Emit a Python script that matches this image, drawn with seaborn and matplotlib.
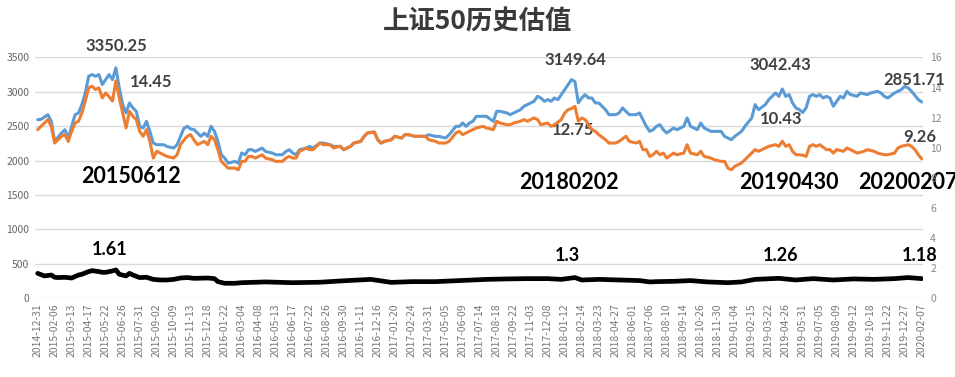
import seaborn as sns
import matplotlib.pyplot as plt

# x axis: weekly points, every 5th week labelled
tick_labels = [
    "2014-12-31", "2015-02-06", "2015-03-13", "2015-04-17", "2015-05-22", "2015-06-26",
    "2015-07-31", "2015-09-02", "2015-10-09", "2015-11-13", "2015-12-18", "2016-01-22",
    "2016-03-04", "2016-04-08", "2016-05-13", "2016-06-17", "2016-07-22", "2016-08-26",
    "2016-09-30", "2016-11-11", "2016-12-16", "2017-01-20", "2017-02-24", "2017-03-31",
    "2017-05-05", "2017-06-09", "2017-07-14", "2017-08-18", "2017-09-22", "2017-11-03",
    "2017-12-08", "2018-01-12", "2018-02-14", "2018-03-23", "2018-04-27", "2018-06-01",
    "2018-07-06", "2018-08-10", "2018-09-14", "2018-10-26", "2018-11-30", "2019-01-04",
    "2019-02-15", "2019-03-22", "2019-04-26", "2019-05-31", "2019-07-05", "2019-08-09",
    "2019-09-12", "2019-10-18", "2019-11-22", "2019-12-27", "2020-02-07",
]

# index level (left axis)
index_wk = [0, 1, 3, 4, 5, 7, 8, 9, 10, 11, 12, 13, 14, 15, 16, 17, 18, 19, 20, 21, 22, 23,
            24, 25, 26, 27, 28, 29, 30, 31, 32, 33, 34, 35, 37, 38, 40, 41, 42, 43, 44, 45,
            46, 48, 49, 50, 51, 52, 53, 54, 55, 56, 57, 58, 59, 60, 61, 62, 63, 64, 66, 67,
            69, 70, 72, 73, 74, 75, 76, 77, 79, 80, 81, 83, 84, 86, 87, 89, 90, 92, 93, 95,
            96, 97, 99, 100, 101, 102, 104, 105, 107, 108, 109, 111, 112, 114, 115, 117, 118,
            120, 121, 123, 124, 125, 126, 127, 128, 129, 131, 132, 134, 135, 136, 138, 139,
            140, 142, 143, 144, 146, 147, 148, 149, 150, 151, 152, 153, 154, 155, 156, 157,
            158, 159, 160, 161, 162, 163, 164, 165, 166, 167, 168, 170, 171, 172, 173, 174,
            176, 177, 178, 179, 180, 181, 182, 183, 184, 185, 187, 188, 190, 191, 192, 194,
            195, 196, 198, 199, 201, 202, 204, 205, 207, 208, 210, 211, 212, 214, 215, 217,
            218, 219, 220, 221, 222, 223, 224, 225, 226, 227, 228, 229, 230, 231, 232, 233,
            234, 235, 236, 237, 238, 239, 241, 242, 244, 245, 247, 248, 249, 250, 252, 253,
            254, 255, 256, 257, 259, 260]
index_val = [2595, 2600, 2668, 2570, 2279, 2401, 2449, 2328, 2498, 2668, 2693, 2814, 2984,
             3227, 3251, 3227, 3251, 3106, 3178, 3251, 3178, 3350.25,
             3057, 2814, 2693, 2839, 2766, 2717, 2498, 2474, 2571, 2425, 2255, 2231, 2231,
             2206, 2182, 2231, 2352, 2470, 2498, 2460,
             2450, 2352, 2401, 2352, 2498, 2425, 2279, 2085, 2037, 1964, 1975, 1988, 1964,
             2110, 2085, 2158, 2158, 2133, 2182, 2133,
             2110, 2085, 2085, 2133, 2158, 2110, 2085, 2158, 2182, 2206, 2182, 2255, 2255,
             2231, 2206, 2206, 2158, 2206, 2255, 2279,
             2352, 2401, 2416, 2304, 2255, 2279, 2304, 2352, 2328, 2376, 2376, 2352, 2352,
             2352, 2376, 2352, 2352,
             2328, 2376, 2498, 2498, 2547, 2498, 2547, 2571, 2644, 2644, 2644, 2571, 2717,
             2717, 2693, 2668,
             2693, 2741, 2790, 2814, 2863, 2935, 2911, 2863, 2887, 2863, 2911, 2887, 2960,
             3033, 3106, 3178,
             3149.64, 2839, 2911, 2960, 2911, 2911, 2839, 2839, 2790, 2741, 2668, 2668, 2693,
             2766, 2717, 2668,
             2668, 2693, 2595, 2498, 2425, 2449, 2498, 2522, 2449, 2401, 2474, 2449, 2498,
             2620, 2498, 2449,
             2547, 2474, 2425, 2425, 2425, 2352, 2304, 2352, 2425, 2498, 2620, 2814, 2741,
             2814, 2887, 2984,
             2935, 3042.43, 2935, 2960, 2839, 2766, 2741, 2700, 2766, 2935, 2960, 2935, 2960,
             2911, 2935, 2911,
             2790, 2863, 2935, 2911, 3008, 2960, 2935, 2984, 2960, 2984, 3008, 2984, 2935,
             2911, 2984, 3008,
             3033, 3081, 3057, 3008, 2887, 2851.71]

# PE (right axis)
pe_wk = [0, 1, 3, 4, 5, 7, 8, 9, 10, 11, 12, 13, 14, 15, 16, 17, 18, 19, 20, 21, 22, 23,
         24, 25, 26, 27, 28, 29, 30, 31, 32, 33, 34, 35, 37, 38, 40, 41, 42, 43, 44, 45,
         46, 47, 49, 50, 51, 52, 53, 54, 55, 56, 58, 59, 60, 61, 62, 63, 64, 66, 67, 69,
         70, 72, 73, 74, 75, 76, 77, 79, 80, 81, 83, 84, 86, 87, 89, 90, 92, 93, 95, 96,
         97, 99, 100, 101, 102, 104, 105, 107, 108, 109, 111, 112, 114, 115, 117, 118, 120,
         121, 123, 124, 125, 126, 128, 129, 131, 132, 134, 135, 136, 138, 139, 140, 142,
         143, 144, 146, 147, 148, 150, 151, 152, 154, 155, 156, 157, 158, 159, 160, 161,
         163, 164, 165, 167, 168, 170, 171, 173, 174, 176, 177, 178, 179, 180, 181, 182,
         183, 184, 185, 187, 188, 190, 191, 192, 194, 195, 196, 198, 199, 201, 202, 203,
         204, 205, 207, 208, 210, 211, 212, 214, 215, 217, 218, 219, 220, 221, 222, 223,
         224, 225, 226, 227, 228, 229, 230, 232, 233, 234, 235, 237, 238, 240, 241, 243,
         244, 246, 247, 249, 250, 252, 253, 254, 256, 257, 258, 259, 260]
pe_val = [11.2, 11.42, 11.87, 11.42, 10.31, 10.76, 10.87, 10.42, 11.09, 11.64, 11.76, 12.31,
          13.09, 13.98, 14.09, 13.87, 13.98, 13.31, 13.64, 13.4, 13.1, 14.45,
          13.31, 12.31, 11.31, 12.42, 12.09, 11.87, 11.09, 10.76, 11.2, 10.42, 9.31, 9.76,
          9.53, 9.42, 9.31, 9.53, 10.2, 10.5, 10.76, 10.87,
          10.5, 10.2, 10.42, 10.2, 10.76, 10.53, 9.87, 9.09, 8.87, 8.64, 8.64, 8.53, 9.09,
          9.09, 9.42, 9.42, 9.31, 9.53, 9.31, 9.2,
          9.09, 9.09, 9.31, 9.42, 9.31, 9.31, 9.76, 9.98, 9.87, 9.87, 10.31, 10.2, 10.2,
          9.98, 10.1, 9.87, 10.09, 10.31, 10.42, 10.76,
          10.98, 11.04, 10.53, 10.31, 10.42, 10.53, 10.76, 10.64, 10.87, 10.87, 10.76,
          10.76, 10.76, 10.53, 10.42, 10.31, 10.31,
          10.42, 10.98, 11.09, 10.87, 10.98, 11.2, 11.31, 11.42, 11.31, 11.2, 11.76, 11.64,
          11.53, 11.53, 11.64, 11.76,
          11.87, 11.76, 11.98, 11.87, 11.53, 11.64, 11.42, 11.53, 11.87, 12.31, 12.53,
          12.6, 12.75, 11.76, 11.98, 11.87,
          11.2, 11.09, 10.87, 10.53, 10.31, 10.31, 10.42, 10.76, 10.42, 10.31, 10.42, 9.87,
          9.87, 9.42, 9.53, 9.76,
          9.53, 9.64, 9.31, 9.64, 9.53, 9.64, 10.2, 9.64, 9.53, 9.76, 9.42, 9.31, 9.2, 9.09,
          9.09, 8.64,
          8.53, 8.76, 8.98, 9.2, 9.64, 9.87, 9.76, 9.98, 10.09, 10.2, 10.09, 10.43, 10.09,
          10.2, 9.76, 9.53,
          9.53, 9.5, 9.42, 10.09, 10.2, 10.09, 10.2, 9.87, 9.87, 9.64, 9.87, 9.76, 9.98,
          9.76, 9.64, 9.76,
          9.87, 9.76, 9.64, 9.53, 9.53, 9.64, 9.98, 10.09, 10.2, 10.09, 9.87, 9.53, 9.26]

# PB (right axis)
pb_wk = [0, 2, 4, 5, 6, 8, 10, 12, 13, 15, 16, 18, 19, 20, 22, 23, 24, 26, 27, 28, 30, 32,
         34, 36, 38, 40, 42, 44, 46, 50, 52, 53, 55, 58, 60, 67, 75, 83, 91, 98, 104, 110,
         117, 124, 132, 138, 144, 150, 154, 158, 160, 165, 171, 177, 180, 182, 187, 192,
         197, 203, 207, 211, 218, 223, 228, 234, 240, 246, 252, 256, 260]
pb_val = [1.64, 1.47, 1.53, 1.38, 1.36, 1.38, 1.33, 1.53, 1.58, 1.76, 1.82, 1.76, 1.71, 1.71,
          1.80, 1.87, 1.58, 1.47, 1.64, 1.53, 1.36, 1.38,
          1.24, 1.2, 1.2, 1.24, 1.33, 1.36, 1.31, 1.33, 1.29, 1.09, 0.98, 0.98, 1.02, 1.07,
          1.02, 1.05, 1.16, 1.24, 1.04, 1.09,
          1.09, 1.16, 1.24, 1.27, 1.29, 1.29, 1.24, 1.36, 1.2, 1.24, 1.2, 1.16, 1.07, 1.09,
          1.11, 1.16,
          1.07, 1.02, 1.07, 1.24, 1.31, 1.2, 1.29, 1.2, 1.27, 1.24, 1.29, 1.36, 1.29]

sns.set_style("white")
plt.rcParams['font.family'] = ['Noto Sans CJK SC', 'DejaVu Sans']

fig = plt.figure(figsize=(9.55, 3.77), dpi=100)
ax = fig.add_axes([0.0366, 0.2095, 0.93, 0.638])
ax2 = ax.twinx()

sns.lineplot(x=index_wk, y=index_val, ax=ax, color='#5B9BD5', lw=2.2)
sns.lineplot(x=pe_wk, y=pe_val, ax=ax2, color='#ED7D31', lw=2.2)
sns.lineplot(x=pb_wk, y=pb_val, ax=ax2, color='black', lw=3.4)

ax.set_xlim(-0.8, 260.4)
ax.set_ylim(0, 3500)
ax2.set_ylim(0, 16)
ax.set_yticks(range(0, 3501, 500))
ax2.set_yticks(range(0, 17, 2))
ax.set_xticks(range(0, 261, 5))
ax.set_xticklabels(tick_labels, rotation=90)
ax.tick_params(axis='x', labelsize=7.5, colors='#777777', length=0, pad=4)
ax.tick_params(axis='y', labelsize=7.5, colors='#666666', length=0, pad=4)
ax2.tick_params(axis='y', labelsize=7.5, colors='#888888', length=0, pad=5)
ax.yaxis.grid(True, color='#D9D9D9', lw=1)
ax.set_axisbelow(True)
for a in (ax, ax2):
    for s in a.spines.values():
        s.set_visible(False)
    a.set_xlabel("")
    a.set_ylabel("")

fig.text(0.5, 1 - 22 / 377, '上证50历史估值', ha='center', va='center',
         fontsize=19, fontweight='bold', color='#3a3a3a')

val_kw = dict(ha='center', va='center', fontsize=12, fontweight='bold',
              color='#404040', family=['Lato', 'DejaVu Sans'], clip_on=False)
date_kw = dict(ha='center', va='center', fontsize=15.5, fontweight='bold',
               color='black', family=['Lato', 'DejaVu Sans'], clip_on=False,
               bbox=dict(facecolor='white', edgecolor='none', pad=0))
pb_kw = dict(ha='center', va='center', fontsize=13, fontweight='bold',
             color='black', family=['Lato', 'DejaVu Sans'], clip_on=False)

# labels placed in left-axis data coordinates
ax.text(23.2, 3660, '3350.25', **val_kw)
ax.text(33.5, 3139, '14.45', **val_kw)
ax.text(27.4, 1769, '20150612', **date_kw)
ax.text(21.2, 700, '1.61', **pb_kw)

ax.text(158, 3470, '3149.64', **val_kw)
ax.text(157.6, 2439, '12.75', **val_kw)
ax.text(156.3, 1687, '20180202', **date_kw)
ax.text(155.8, 617, '1.3', **pb_kw)

ax.text(218.5, 3397, '3042.43', **val_kw)
ax.text(218.5, 2610, '10.43', **val_kw)
ax.text(221, 1681, '20190430', **date_kw)
ax.text(218.5, 617, '1.26', **pb_kw)

ax.text(257.7, 3168, '2851.71', **val_kw)
ax.text(259.4, 2343, '9.26', **val_kw)
ax.text(255.9, 1684, '20200207', **date_kw)
ax.text(259.4, 617, '1.18', **pb_kw)

fig.savefig('out.png', dpi=100)
